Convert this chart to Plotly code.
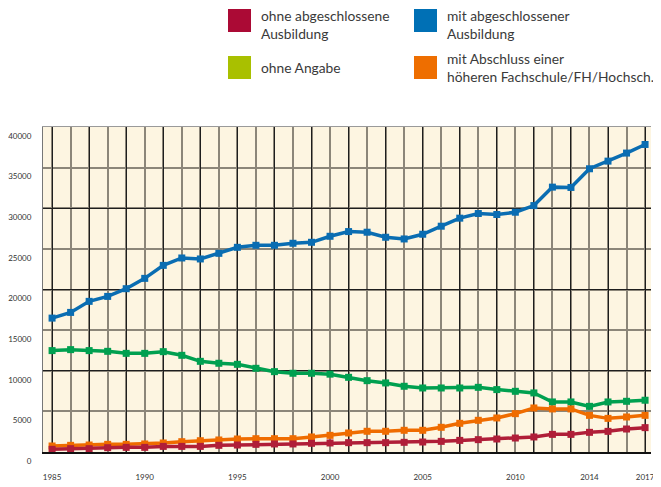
import plotly.graph_objects as go

# page has an 8px body margin, so the figure is drawn 8px smaller and shifted
OFF = 8
W, H = 661 - OFF, 487 - OFF
ML, MR, MT, MB = 43 - OFF, 10, 127 - OFF, 35

years = list(range(1985, 2018))

ohne_ausbildung = [330, 410, 410, 530, 570, 570, 690, 690, 690, 820, 860, 940, 990, 990, 1070, 1110,
                   1150, 1150, 1150, 1190, 1230, 1310, 1430, 1520, 1600, 1720, 1850, 2170, 2170, 2420,
                   2540, 2830, 3000]
mit_ausbildung = [16480, 17180, 18540, 19150, 20100, 21370, 22970, 23880, 23760, 24450, 25190, 25440,
                  25440, 25690, 25810, 26550, 27130, 27050, 26430, 26220, 26800, 27790, 28780, 29350,
                  29230, 29510, 30330, 32600, 32560, 34860, 35800, 36790, 37850]
ohne_angabe = [12480, 12600, 12480, 12390, 12140, 12140, 12350, 11900, 11160, 10920, 10790, 10300,
               9890, 9690, 9690, 9580, 9190, 8780, 8500, 8090, 7880, 7880, 7880, 7960, 7680, 7470,
               7270, 6160, 6160, 5620, 6160, 6240, 6370]
hochschule = [740, 820, 860, 940, 940, 990, 1110, 1270, 1390, 1480, 1600, 1640, 1640, 1640, 1850, 2050,
              2340, 2550, 2550, 2670, 2670, 3040, 3530, 3900, 4190, 4720, 5420, 5300, 5300, 4510,
              4140, 4310, 4510]

x_ticks = [1985, 1990, 1995, 2000, 2005, 2010, 2014, 2017]
y_ticks = list(range(0, 40001, 5000))

legend_labels = ["ohne abgeschlossene<br>Ausbildung", "mit abgeschlossener<br>Ausbildung",
                 "ohne Angabe", "mit Abschluss einer<br>höheren Fachschule/FH/Hochsch."]
legend_colors = ["#ab0a35", "#0070b5", "#a9c000", "#ee6e00"]

BG = "#fdf5e1"
GRID_DARK = "#1e1e1e"
GRID_GRAY = "#8c8679"


def px_x(p):
    return (p - OFF - ML) / (W - ML - MR)


def px_y(p):
    return (H - MB - (p - OFF)) / (H - MT - MB)


fig = go.Figure()

series = [
    (mit_ausbildung, "#0a6db2"),
    (ohne_angabe, "#00a050"),
    (hochschule, "#ef6c00"),
    (ohne_ausbildung, "#b01e38"),
]
for vals, col in series:
    fig.add_trace(go.Scatter(
        x=years, y=vals, mode="lines+markers",
        line=dict(color=col, width=3.5),
        marker=dict(symbol="square", size=7, color=col),
        showlegend=False, hoverinfo="skip",
    ))

# invisible trace so the overlay axes (dark gridlines) exist
fig.add_trace(go.Scatter(x=[None], y=[None], xaxis="x2", yaxis="y2", showlegend=False))

xr = [1984.51, 2017.32]
fig.update_layout(
    width=W, height=H,
    margin=dict(l=ML, r=MR, t=MT, b=MB),
    paper_bgcolor="white", plot_bgcolor=BG,
    font=dict(family="Lato, sans-serif", color="#333333"),
    xaxis=dict(
        range=xr, tickmode="array", tickvals=x_ticks, showgrid=False, automargin=False,
        ticks="", ticklabelstandoff=16, tickfont=dict(size=8),
        showline=True, linecolor="#111111", linewidth=2, zeroline=False,
        minor=dict(dtick=1, tick0=1986, showgrid=True, gridcolor=GRID_GRAY, gridwidth=2),
    ),
    xaxis2=dict(
        range=xr, overlaying="x", side="top", showticklabels=False, ticks="", automargin=False,
        tick0=1985, dtick=2, showgrid=True, gridcolor=GRID_DARK, gridwidth=1,
        showline=True, linecolor="#9a9a9a", linewidth=1, zeroline=False,
    ),
    yaxis=dict(
        range=[0, 40000], tickmode="array", tickvals=y_ticks, tickformat="d", ticks="",
        ticklabelshift=9, ticklabelstandoff=9, tickfont=dict(size=8),
        showgrid=True, gridcolor=GRID_GRAY, gridwidth=2, automargin=False,
        showline=True, linecolor="#777777", linewidth=1, zeroline=False,
    ),
    yaxis2=dict(
        range=[0, 40000], overlaying="y", side="right", showticklabels=False, ticks="",
        dtick=10000, showgrid=True, gridcolor=GRID_DARK, gridwidth=1, zeroline=False,
        showline=False, automargin=False,
    ),
)

# legend drawn as boxes + labels above the plot (positions in page pixels)
legend_pos = [(228, 9), (414, 9), (228, 56), (414, 56)]
label_mid = [24, 24, 68, 68]
for (lx, ly), my, lab, col in zip(legend_pos, label_mid, legend_labels, legend_colors):
    fig.add_shape(type="rect", xref="paper", yref="paper",
                  x0=px_x(lx), x1=px_x(lx + 23), y0=px_y(ly + 23), y1=px_y(ly),
                  fillcolor=col, line=dict(width=0))
    fig.add_annotation(xref="paper", yref="paper", x=px_x(lx + 31), y=px_y(my),
                       text=lab, showarrow=False, xanchor="left", yanchor="middle",
                       align="left", font=dict(size=13.8, color="#3a3a3a"))

fig.write_html("out.html")
